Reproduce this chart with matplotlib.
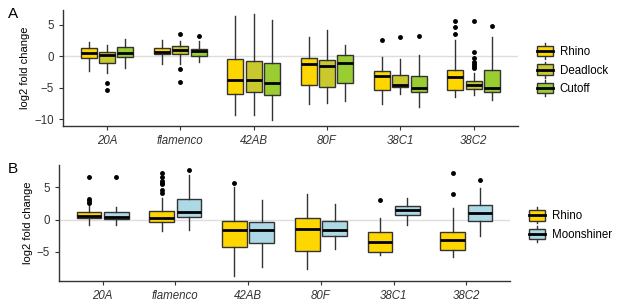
import matplotlib.pyplot as plt
from matplotlib.legend_handler import HandlerBase
from matplotlib.patches import Rectangle, Patch
from matplotlib.lines import Line2D

plt.rcParams['font.family'] = ['Liberation Sans', 'DejaVu Sans']

loci = ["20A", "flamenco", "42AB", "80F", "38C1", "38C2"]

# five-number summaries per locus: whisker low, q1, median, q3, whisker high
rhino_a = [[-2.3, -0.3, 0.6, 1.3, 2.3], [-1.2, 0.35, 0.75, 1.3, 2.6],
           [-9.35, -6.05, -3.8, -0.4, 6.5], [-7.65, -4.6, -1.3, -0.25, 3.0],
           [-7.65, -5.4, -3.1, -2.3, -0.15], [-6.5, -5.4, -3.35, -2.2, 2.6]]
deadlock_a = [[-2.6, -1.1, 0.2, 0.75, 1.75], [-1.3, 0.3, 1.05, 1.65, 2.45],
              [-9.35, -5.75, -3.8, -0.7, 6.75], [-7.5, -4.85, -1.6, -0.6, 4.2],
              [-6.05, -4.85, -4.6, -2.9, -0.4], [-6.2, -5.25, -4.6, -4.0, -2.6]]
cutoff_a = [[-1.8, -0.15, 0.6, 1.55, 2.8], [-0.85, 0.05, 0.85, 1.2, 2.5],
            [-10.15, -6.1, -4.2, -1.1, 5.8], [-7.1, -4.2, -1.0, 0.15, 1.8],
            [-8.05, -5.75, -5.0, -3.15, 0.2], [-7.0, -5.7, -5.05, -2.2, 3.0]]
rhino_a_out = [[], [], [], [], [2.6], [5.7, 4.6, 3.5]]
deadlock_a_out = [[-4.3, -5.4], [3.6, -2.0, -4.15], [], [], [3.0],
                  [5.7, 0.65, -0.3, -0.85, -1.3, -1.55, -1.9]]
cutoff_a_out = [[], [3.3], [], [], [3.3], [4.9]]

rhino_b = [[-0.8, 0.2, 0.6, 1.15, 2.1], [-1.8, -0.35, 0.25, 1.35, 3.3],
           [-8.8, -4.2, -1.6, -0.2, 5.0], [-7.6, -4.8, -1.5, 0.3, 4.0],
           [-5.45, -5.05, -3.5, -1.9, 0.3], [-5.8, -4.75, -3.15, -1.9, 1.85]]
moonshiner_b = [[-0.9, 0.05, 0.45, 1.1, 1.9], [-1.6, 0.45, 1.1, 3.25, 6.9],
                [-7.3, -3.7, -1.6, -0.4, 3.05], [-4.6, -2.6, -1.6, -0.2, 2.4],
                [-0.9, 0.75, 1.45, 2.1, 3.3], [-2.6, -0.3, 1.0, 2.3, 4.85]]
rhino_b_out = [[6.5, 3.1, 2.8, 2.5], [7.15, 6.5, 6.0, 5.7, 5.45, 4.6, 4.1],
               [5.7], [], [2.95], [7.25, 4.0]]
moonshiner_b_out = [[6.5], [7.7], [], [], [], [6.15]]

RHINO = "#FFD700"
DEADLOCK = "#C9C92E"
CUTOFF = "#9ACD32"
MOON = "#ADD8E6"
EDGE = "#333333"
FS = 8.3


class BoxHandler(HandlerBase):
    def create_artists(self, legend, orig, xd, yd, w, h, fs, trans):
        x0, y0 = -xd, -yd
        whisk = Line2D([x0 + w / 2, x0 + w / 2], [y0 - 0.2 * h, y0 + 1.2 * h],
                       color=EDGE, lw=1, transform=trans)
        box = Rectangle((x0, y0 + 0.05 * h), w, 0.9 * h, facecolor=orig.get_facecolor(),
                        edgecolor=EDGE, lw=1, transform=trans)
        med = Line2D([x0, x0 + w], [y0 + 0.5 * h] * 2, color="black", lw=2,
                     transform=trans)
        return [whisk, box, med]


def draw_boxes(ax, series, outliers, colours, width, offsets):
    for st, fl, col, off in zip(series, outliers, colours, offsets):
        stats = [dict(whislo=s[0], q1=s[1], med=s[2], q3=s[3], whishi=s[4], fliers=f)
                 for s, f in zip(st, fl)]
        pos = [i + 1 + off for i in range(len(loci))]
        ax.bxp(stats, positions=pos, widths=width, patch_artist=True, showcaps=False,
               manage_ticks=False,
               boxprops=dict(facecolor=col, edgecolor=EDGE, linewidth=1),
               medianprops=dict(color="black", linewidth=2),
               whiskerprops=dict(color=EDGE, linewidth=1),
               flierprops=dict(marker="o", markersize=2.5, markerfacecolor="black",
                               markeredgecolor="black"))


def style(ax, yticks):
    ax.axhline(0, color="#dddddd", lw=1, zorder=0)
    ax.set_xlim(0.4, 6.6)
    ax.set_xticks(range(1, len(loci) + 1))
    ax.set_xticklabels(loci, style="italic", fontsize=FS, color="#333333")
    ax.set_yticks(yticks)
    ax.tick_params(axis="y", labelsize=FS, labelcolor="#333333", length=3, color="#333333")
    ax.tick_params(axis="x", length=3, color="#333333")
    for s in ("top", "right"):
        ax.spines[s].set_visible(False)
    for s in ("left", "bottom"):
        ax.spines[s].set_color("#333333")
        ax.spines[s].set_linewidth(1)
    ax.set_ylabel("log2 fold change", fontsize=8, labelpad=3)


def add_legend(ax, colours, names):
    handles = [Patch(facecolor=c) for c in colours]
    ax.legend(handles, names, handler_map={Patch: BoxHandler()},
              loc="center left", bbox_to_anchor=(1.02, 0.48), frameon=False, fontsize=FS,
              handlelength=1.35, handleheight=1.15, labelspacing=0.5, handletextpad=0.6)


fig = plt.figure(figsize=(6.17, 3.08), dpi=100)

ax1 = fig.add_axes([0.102, 0.591, 0.737, 0.377])
draw_boxes(ax1, [rhino_a, deadlock_a, cutoff_a], [rhino_a_out, deadlock_a_out, cutoff_a_out],
           [RHINO, DEADLOCK, CUTOFF], 0.22, [-0.25, 0, 0.25])
style(ax1, [-10, -5, 0, 5])
ax1.set_ylim(-11.1, 7.4)
add_legend(ax1, [RHINO, DEADLOCK, CUTOFF], ["Rhino", "Deadlock", "Cutoff"])

ax2 = fig.add_axes([0.0956, 0.0877, 0.731, 0.377])
draw_boxes(ax2, [rhino_b, moonshiner_b], [rhino_b_out, moonshiner_b_out],
           [RHINO, MOON], 0.34, [-0.1875, 0.1875])
style(ax2, [-5, 0, 5])
ax2.set_ylim(-9.5, 8.45)
add_legend(ax2, [RHINO, MOON], ["Rhino", "Moonshiner"])

fig.text(0.013, 0.955, "A", fontsize=11, va="center")
fig.text(0.013, 0.45, "B", fontsize=11, va="center")

fig.savefig("out.png", dpi=100)
